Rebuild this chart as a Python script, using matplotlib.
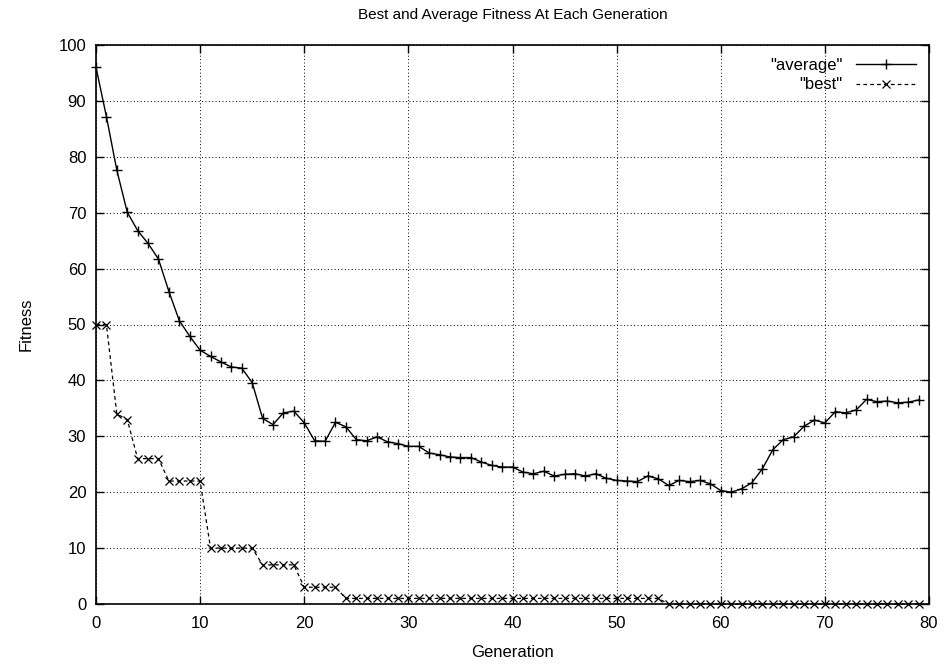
import numpy as np
import matplotlib
matplotlib.use("Agg")
import matplotlib.pyplot as plt

plt.rcParams['font.family'] = ['Liberation Sans', 'DejaVu Sans']

generation = list(range(80))

average = [96.0, 87.2, 77.6, 70.1, 66.8, 64.5, 61.7, 55.9, 50.7, 47.9,
           45.4, 44.3, 43.3, 42.4, 42.2, 39.6, 33.2, 32.1, 34.2, 34.5,
           32.4, 29.2, 29.1, 32.5, 31.7, 29.4, 29.2, 29.9, 29.0, 28.7,
           28.2, 28.2, 27.0, 26.7, 26.3, 26.2, 26.2, 25.4, 24.8, 24.5,
           24.5, 23.6, 23.3, 23.75, 22.9, 23.2, 23.3, 22.9, 23.3, 22.5,
           22.1, 22.0, 21.9, 22.9, 22.4, 21.2, 22.1, 21.9, 22.1, 21.5,
           20.3, 20.0, 20.6, 21.7, 24.2, 27.6, 29.4, 29.9, 31.8, 32.9,
           32.4, 34.4, 34.2, 34.7, 36.6, 36.2, 36.3, 36.0, 36.1, 36.5]

best = [50, 50, 34, 33, 26, 26, 26, 22, 22, 22,
        22, 10, 10, 10, 10, 10, 7, 7, 7, 7,
        3, 3, 3, 3] + [1] * 31 + [0] * 25

fig = plt.figure(figsize=(9.45, 6.64), dpi=100)
ax = fig.add_axes([96 / 945, 1 - 604 / 664, (929 - 96) / 945, (604 - 45) / 664])

ax.plot(generation, average, '-', color='black', lw=1.0, marker='+',
        ms=7, mew=1.0, label='"average"', clip_on=False, zorder=3)
ax.plot(generation, best, '--', color='black', lw=0.9, marker='x',
        ms=6, mew=0.9, label='"best"', dashes=(3, 2.5), clip_on=False, zorder=3)

ax.set_xlim(0, 80)
ax.set_ylim(0, 100)
ax.set_xticks(range(0, 81, 10))
ax.set_yticks(range(0, 101, 10))
ax.tick_params(axis='x', pad=9)
ax.tick_params(axis='y', pad=7)
ax.tick_params(direction='in', length=6, width=1, top=True, right=True,
               labelsize=12)
ax.grid(True, linestyle=(0, (1, 2.5)), color='black', lw=0.7)
for s in ax.spines.values():
    s.set_linewidth(1.2)

ax.set_xlabel("Generation", fontsize=12, labelpad=10)
ax.set_ylabel("Fitness", fontsize=12, labelpad=18)
ax.set_title("Best and Average Fitness At Each Generation", fontsize=11, pad=19)

leg = ax.legend(loc='upper right', frameon=False, markerfirst=False,
                fontsize=12, handlelength=3.6, handletextpad=0.8,
                labelspacing=0.25, borderaxespad=0.4)
for t in leg.get_texts():
    t.set_ha('right')

fig.savefig("out.png", dpi=100)
